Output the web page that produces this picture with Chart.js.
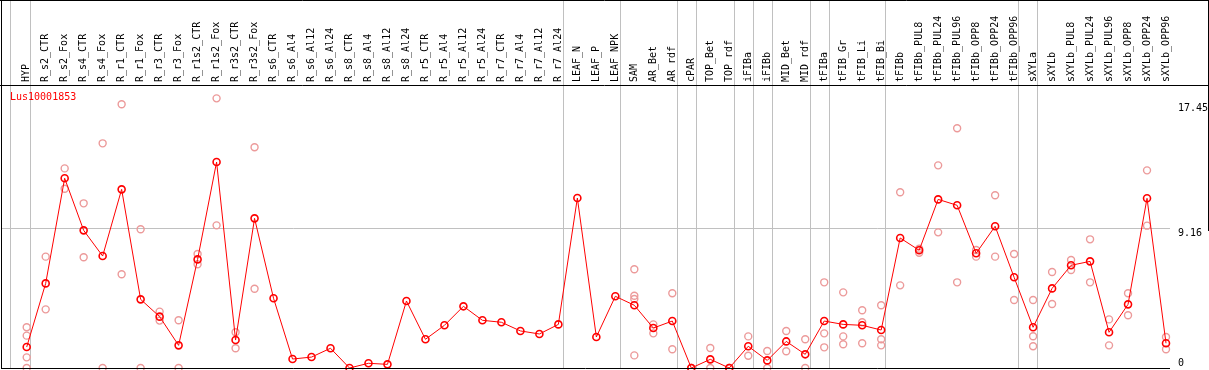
<!DOCTYPE html>
<html>
<head>
<meta charset="utf-8">
<script src="https://cdn.jsdelivr.net/npm/chart.js@4.4.0/dist/chart.umd.min.js"></script>
<style>
    html, body { margin: 0; padding: 0; background: #fff; }
</style>
</head>
<body>
<canvas id="expr-chart" width="1209" height="370"></canvas>
<script>
const geneName = 'Lus10001853';

const categories = ['HYP', 'R_s2_CTR', 'R_s2_Fox', 'R_s4_CTR', 'R_s4_Fox', 'R_r1_CTR', 'R_r1_Fox',
    'R_r3_CTR', 'R_r3_Fox', 'R_r1s2_CTR', 'R_r1s2_Fox', 'R_r3s2_CTR', 'R_r3s2_Fox', 'R_s6_CTR',
    'R_s6_Al4', 'R_s6_Al12', 'R_s6_Al24', 'R_s8_CTR', 'R_s8_Al4', 'R_s8_Al12', 'R_s8_Al24',
    'R_r5_CTR', 'R_r5_Al4', 'R_r5_Al12', 'R_r5_Al24', 'R_r7_CTR', 'R_r7_Al4', 'R_r7_Al12', 'R_r7_Al24',
    'LEAF_N', 'LEAF_P', 'LEAF_NPK', 'SAM', 'AR_Bet', 'AR_rdf', 'cPAR', 'TOP_Bet', 'TOP_rdf',
    'iFIBa', 'iFIBb', 'MID_Bet', 'MID_rdf', 'tFIBa', 'tFIB_Gr', 'tFIB_Li', 'tFIB_Bi', 'tFIBb',
    'tFIBb_PUL8', 'tFIBb_PUL24', 'tFIBb_PUL96', 'tFIBb_OPP8', 'tFIBb_OPP24', 'tFIBb_OPP96',
    'sXYLa', 'sXYLb', 'sXYLb_PUL8', 'sXYLb_PUL24', 'sXYLb_PUL96', 'sXYLb_OPP8', 'sXYLb_OPP24', 'sXYLb_OPP96'];

// mean expression per sample
const means = [1.38, 5.57, 12.49, 9.06, 7.37, 11.76, 4.52, 3.38, 1.49, 7.15, 13.56, 1.84, 9.85, 4.59,
    0.59, 0.72, 1.30, 0, 0.31, 0.24, 4.41, 1.89, 2.81, 4.06, 3.14, 3.01, 2.44, 2.24, 2.87,
    11.19, 2.04, 4.72, 4.13, 2.63, 3.09, 0, 0.57, 0, 1.43, 0.50, 1.75, 0.90, 3.09, 2.87, 2.81, 2.50, 8.56,
    7.75, 11.10, 10.71, 7.55, 9.33, 5.97, 2.68, 5.24, 6.76, 7.02, 2.35, 4.19, 11.17, 1.63];

// single replicates per sample
const replicates = [
    [2.68, 2.13, 0.70, 0], [7.33, 3.86], [13.14, 11.80], [10.84, 7.29], [14.79, 0], [17.36, 6.17],
    [9.13, 0], [3.71, 3.12], [3.14, 0], [7.50, 6.83], [17.75, 9.39], [2.35, 1.30], [14.53, 5.22],
    [], [], [], [], [], [], [], [], [], [], [], [], [], [], [], [],
    [], [], [],
    [6.50, 4.76, 4.54, 0.83], [2.87, 2.28], [4.92, 1.23], [0, 0], [1.32, 0], [0, 0],
    [2.08, 0.81], [1.12, 0], [2.44, 1.10], [1.89, 0], [5.64, 2.28, 1.36], [4.98, 2.08, 1.56],
    [3.80, 3.01, 1.63], [4.13, 1.89, 1.49], [11.57, 5.44],
    [7.59, 7.85], [13.34, 8.93], [15.78, 5.64], [7.77, 7.33], [11.37, 7.33], [7.50, 4.48],
    [4.48, 2.09, 1.43], [6.32, 4.21], [7.11, 6.45], [8.47, 5.64], [3.20, 1.49], [4.92, 3.47],
    [13.01, 9.37], [2.04, 1.23]];

const yTicks = [0, 9.16, 17.45];

// vertical group separators (in category units)
const groupBreaks = [-0.88, 0.17, 28.22, 31.23, 34.23, 35.23, 37.23, 38.23, 39.23, 41.23, 42.23, 45.21, 52.22, 53.22];

const FONT = 'DejaVu Sans Mono';

const meanPoints = means.map((v, i) => ({ x: i, y: v }));
const repPoints = [];
replicates.forEach((list, i) => list.forEach(v => repPoints.push({ x: i, y: v })));

function noPadding(s) {
    s.paddingLeft = 0;
    s.paddingRight = 0;
    s.paddingTop = 0;
    s.paddingBottom = 0;
}

const frame = {
    id: 'frame',
    beforeDatasetsDraw(chart) {
        const ctx = chart.ctx;
        const xs = chart.scales.x;
        const area = chart.chartArea;
        ctx.save();
        ctx.strokeStyle = '#c0c0c0';
        ctx.lineWidth = 1;
        groupBreaks.forEach(b => {
            const px = Math.round(xs.getPixelForValue(b)) + 0.5;
            ctx.beginPath();
            ctx.moveTo(px, 0);
            ctx.lineTo(px, area.bottom);
            ctx.stroke();
        });
        ctx.restore();
    },
    afterDraw(chart) {
        const ctx = chart.ctx;
        const area = chart.chartArea;
        ctx.save();
        ctx.strokeStyle = '#000';
        ctx.lineWidth = 1;
        ctx.beginPath();
        ctx.moveTo(0, 0.5); ctx.lineTo(chart.width, 0.5);
        ctx.moveTo(0, area.top + 0.5); ctx.lineTo(chart.width, area.top + 0.5);
        ctx.moveTo(1.5, 0); ctx.lineTo(1.5, area.bottom + 1);
        ctx.moveTo(1, area.bottom + 0.5); ctx.lineTo(area.right, area.bottom + 0.5);
        ctx.moveTo(chart.width - 0.5, 0); ctx.lineTo(chart.width - 0.5, 231);
        ctx.stroke();
        ctx.fillStyle = '#ff0000';
        ctx.font = '10px "' + FONT + '"';
        ctx.textBaseline = 'middle';
        ctx.fillText(geneName, 10, 97);
        ctx.restore();
    }
};

new Chart(document.getElementById('expr-chart'), {
    type: 'line',
    data: {
        datasets: [
            {
                label: 'mean',
                data: meanPoints,
                order: 0,
                borderColor: '#ff0000',
                borderWidth: 1,
                pointRadius: 3.5,
                pointBorderWidth: 1.6,
                pointBorderColor: '#ff0000',
                pointBackgroundColor: 'rgba(0,0,0,0)',
                tension: 0,
                clip: false,
            },
            {
                label: 'replicates',
                data: repPoints,
                order: 1,
                showLine: false,
                pointRadius: 3.5,
                pointBorderWidth: 1.4,
                pointBorderColor: '#ec9a9a',
                pointBackgroundColor: 'rgba(0,0,0,0)',
                clip: false,
            }
        ]
    },
    options: {
        responsive: false,
        animation: false,
        layout: { autoPadding: false, padding: { left: 1, right: 0, top: 0, bottom: 2 } },
        plugins: {
            legend: { display: false },
            tooltip: { enabled: false },
        },
        scales: {
            x: {
                type: 'linear',
                position: 'top',
                min: -1.353,
                max: 60.21,
                afterBuildTicks: s => { s.ticks = categories.map((c, i) => ({ value: i })); },
                afterFit: s => { s.height = 85; noPadding(s); },
                ticks: {
                    autoSkip: false,
                    minRotation: 90,
                    maxRotation: 90,
                    padding: 3,
                    labelOffset: 12,
                    color: '#000',
                    font: { family: FONT, size: 10 },
                    callback: v => categories[v],
                },
                grid: { display: false, drawTicks: false, tickLength: 0 },
                border: { display: false },
            },
            y: {
                position: 'right',
                min: 0,
                max: 18.63,
                afterBuildTicks: s => { s.ticks = yTicks.map(v => ({ value: v })); },
                afterFit: s => { s.width = 39; noPadding(s); },
                ticks: {
                    padding: 8,
                    color: '#000',
                    font: { family: FONT, size: 10, lineHeight: 1 },
                    callback: v => v === 0 ? ['0', ''] : ['', String(v)],
                },
                grid: {
                    drawTicks: false,
                    tickLength: 0,
                    color: c => (c.tick && c.tick.value === 9.16) ? '#c0c0c0' : 'rgba(0,0,0,0)',
                },
                border: { display: false },
            }
        }
    },
    plugins: [frame]
});
</script>
</body>
</html>
